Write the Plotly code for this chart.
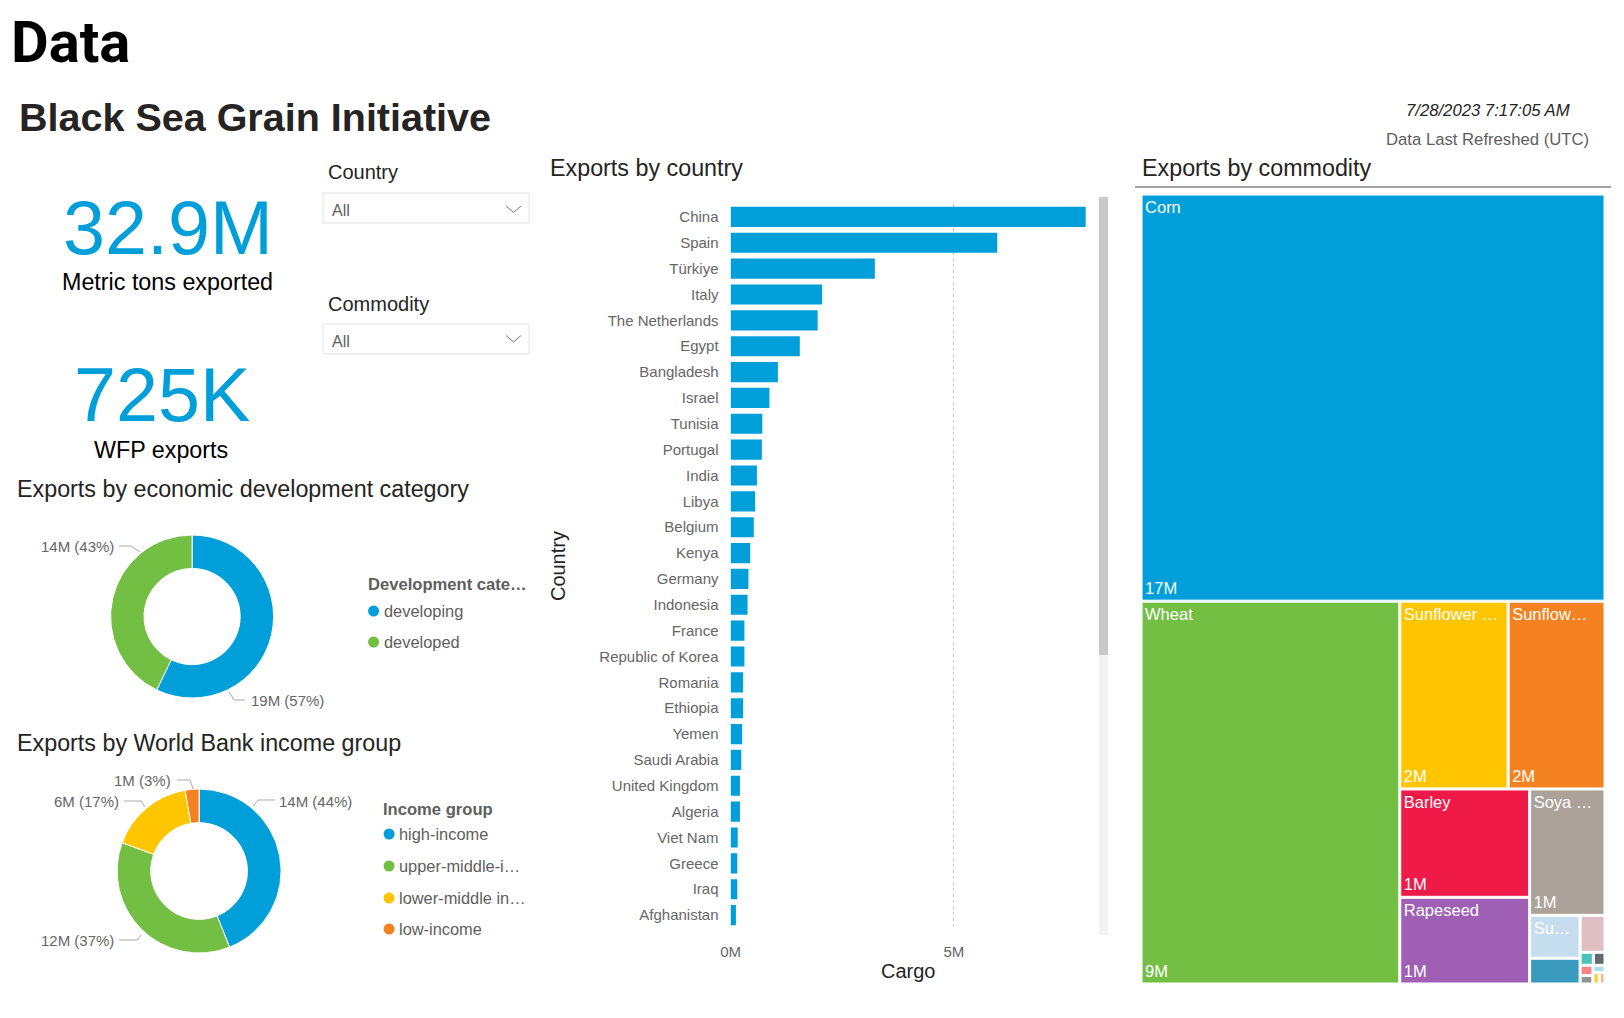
import plotly.graph_objects as go

# page geometry (body margin removed after drawing)
OX, OY = 0, 0
FW, FH = 1624, 1018
# measured horizontal placement correction of the rendered page
CX_A, CX_B = 9.9, 0.9939
FONT = "Liberation Sans, Arial, sans-serif"
DARK = "#252423"
GRAY = "#605E5C"
BLUE = "#009FDA"

# ---------------- data ----------------
countries = ["China", "Spain", "Türkiye", "Italy", "The Netherlands", "Egypt", "Bangladesh",
             "Israel", "Tunisia", "Portugal", "India", "Libya", "Belgium", "Kenya", "Germany",
             "Indonesia", "France", "Republic of Korea", "Romania", "Ethiopia", "Yemen",
             "Saudi Arabia", "United Kingdom", "Algeria", "Viet Nam", "Greece", "Iraq", "Afghanistan"]
cargo_m = [7.95, 5.97, 3.23, 2.05, 1.95, 1.55, 1.06, 0.87, 0.71, 0.70, 0.59, 0.55, 0.52, 0.44,
           0.40, 0.38, 0.31, 0.31, 0.28, 0.28, 0.26, 0.24, 0.21, 0.21, 0.16, 0.15, 0.15, 0.12]

dev_categories = ["developing", "developed"]
dev_mt = [18.8, 14.1]
dev_colors = [BLUE, "#72BF44"]

income_groups = ["high-income", "upper-middle-income", "lower-middle income", "low-income"]
income_legend = ["high-income", "upper-middle-i…", "lower-middle in…", "low-income"]
income_mt = [14.5, 12.1, 5.5, 0.9]
income_colors = [BLUE, "#72BF44", "#FFC600", "#F58220"]

commodities = ["Corn", "Wheat", "Sunflower meal", "Sunflower oil", "Barley", "Rapeseed",
               "Soya beans", "Sunflower seed", "Peas", "Mixed", "Wheat bran pellets",
               "Sugar beet pellets", "Vegetable oil", "Soya oil", "Rapeseed meal",
               "Soya bean meal", "Sunflower pellets"]
commodity_labels = ["Corn", "Wheat", "Sunflower …", "Sunflow…", "Barley", "Rapeseed", "Soya …",
                    "Su…", "", "", "", "", "", "", "", "", ""]
commodity_mt = [17.45, 9.15, 1.88, 1.68, 1.30, 1.04, 0.88, 0.20, 0.12, 0.085, 0.016, 0.014,
                0.012, 0.010, 0.008, 0.007, 0.006]
commodity_colors = [BLUE, "#72BF44", "#FFC600", "#F58220", "#EF1A48", "#9E5FB5", "#ADA29A",
                    "#C6DDF0", "#3A9ABE", "#DFBFC3", "#4BC2BB", "#5F6B6D", "#FF8080",
                    "#8C9598", "#A9DCF0", "#F7D34B", "#F9B48A"]

total_mt = "32.9M"
wfp_mt = "725K"


def fx(x):
    return ((x - CX_A) / CX_B - OX) / FW


def fy(y):
    return 1 - (y - OY) / FH


fig = go.Figure()

# ---------------- bar chart ----------------
fig.add_trace(go.Bar(
    x=cargo_m, y=countries, orientation="h", marker=dict(color=BLUE, line=dict(width=0)),
    hovertemplate="%{y}: %{x:.2f}M<extra></extra>", showlegend=False))

# ---------------- donuts ----------------
fig.add_trace(go.Pie(
    labels=dev_categories, values=dev_mt, hole=0.59, sort=False, direction="clockwise",
    rotation=0, textinfo="none", marker=dict(colors=dev_colors, line=dict(color="white", width=1)),
    domain=dict(x=[fx(110.5), fx(273.5)], y=[fy(698), fy(535)]), showlegend=False))

fig.add_trace(go.Pie(
    labels=income_groups, values=income_mt, hole=0.59, sort=False, direction="clockwise",
    rotation=0, textinfo="none", marker=dict(colors=income_colors, line=dict(color="white", width=1)),
    domain=dict(x=[fx(117), fx(281)], y=[fy(953), fy(789)]), showlegend=False))

# ---------------- treemap ----------------
parents = [""] * len(commodities)
value_text = [f"{v:.0f}M" if v >= 0.5 else "" for v in commodity_mt]
tm_domain = dict(x=[fx(1142), fx(1604)], y=[fy(983), fy(195)])
fig.add_trace(go.Treemap(
    labels=commodities, parents=parents, values=commodity_mt, text=commodity_labels,
    texttemplate="%{text}", textposition="top left", sort=True,
    marker=dict(colors=commodity_colors, line=dict(color="white", width=1), pad=dict(t=0, l=0, r=0, b=0)),
    tiling=dict(pad=2, squarifyratio=1), pathbar=dict(visible=False),
    textfont=dict(family=FONT, size=16.5, color="white"), domain=tm_domain,
    hovertemplate="%{label}: %{value}M<extra></extra>"))
fig.add_trace(go.Treemap(
    labels=commodities, parents=parents, values=commodity_mt, text=value_text,
    texttemplate="%{text}", textposition="bottom left", sort=True,
    marker=dict(colors=["rgba(0,0,0,0)"] * len(commodities), line=dict(width=0),
                pad=dict(t=0, l=0, r=0, b=0)),
    tiling=dict(pad=2, squarifyratio=1), pathbar=dict(visible=False),
    textfont=dict(family=FONT, size=16.5, color="white"), domain=tm_domain, hoverinfo="skip"))

# ---------------- annotations ----------------
anns = []


def ann(text, x, y, size, color=DARK, xanchor="left", yanchor="middle", family=FONT, angle=0):
    anns.append(dict(text=text, x=fx(x), y=fy(y), xref="paper", yref="paper", showarrow=False,
                     xanchor=xanchor, yanchor=yanchor, textangle=angle,
                     font=dict(family=family, size=size, color=color)))


anns.append(dict(text="<b>Data</b>", x=0, y=fy(41.5), xref="paper", yref="paper", showarrow=False,
                 xanchor="left", yanchor="middle", borderpad=0,
                 font=dict(family="Roboto, Liberation Sans, sans-serif", size=58, color="#000000")))
ann("<b>Black Sea Grain Initiative</b>", 17, 117, 39.5, DARK)
ann("<i>7/28/2023 7:17:05 AM</i>", 1572, 110, 16.7, DARK, xanchor="right")
ann("Data Last Refreshed (UTC)", 1591, 139, 16.7, GRAY, xanchor="right")

ann(total_mt, 167.5, 228, 75.5, BLUE, xanchor="center")
ann("Metric tons exported", 167.5, 282, 23.3, "#000000", xanchor="center")
ann(wfp_mt, 162, 395, 75.5, BLUE, xanchor="center")
ann("WFP exports", 161, 450, 23.3, "#000000", xanchor="center")

ann("Country", 326, 172, 20, DARK)
ann("All", 330, 210, 16, GRAY)
ann("Commodity", 326, 304, 20, DARK)
ann("All", 330, 341, 16, GRAY)

ann("Exports by economic development category", 15, 489, 23.3, DARK)
ann("Exports by World Bank income group", 15, 743, 23.3, DARK)
ann("Exports by country", 548, 168, 23.3, DARK)
ann("Exports by commodity", 1140, 168, 23.3, DARK)

ann("Country", 558, 566, 20, DARK, xanchor="center", angle=-90)
ann("Cargo", 908, 971, 20, DARK, xanchor="center")

# donut data labels
dev_total = sum(dev_mt)
dev_lbl = [f"{v:.0f}M ({100 * v / dev_total:.0f}%)" for v in dev_mt]
inc_total = sum(income_mt)
inc_lbl = [f"{v:.0f}M ({100 * v / inc_total:.0f}%)" for v in income_mt]
LBL = "#666666"
ann(dev_lbl[0], 249, 700, 15, LBL)
ann(dev_lbl[1], 116, 546, 15, LBL, xanchor="right")
ann(inc_lbl[0], 277, 801, 15, LBL)
ann(inc_lbl[1], 116, 940, 15, LBL, xanchor="right")
ann(inc_lbl[2], 121, 801, 15, LBL, xanchor="right")
ann(inc_lbl[3], 173, 780, 15, LBL, xanchor="right")

# legends
ann("<b>Development cate…</b>", 366, 584, 16.6, GRAY)
for name, yy in zip(dev_categories, [611, 642]):
    ann(name, 382, yy, 16.4, GRAY)
ann("<b>Income group</b>", 381, 809, 16.6, GRAY)
for name, yy in zip(income_legend, [834, 866, 898, 929]):
    ann(name, 397, yy, 16.4, GRAY)

# ---------------- shapes ----------------
shapes = []


def rect(x0, y0, x1, y1, fill, line="rgba(0,0,0,0)", lw=0):
    shapes.append(dict(type="rect", xref="paper", yref="paper", x0=fx(x0), x1=fx(x1),
                       y0=fy(y1), y1=fy(y0), fillcolor=fill, line=dict(color=line, width=lw), layer="below"))


def path(pts, color, width=1):
    d = "M " + " L ".join(f"{fx(a):.5f},{fy(b):.5f}" for a, b in pts)
    shapes.append(dict(type="path", xref="paper", yref="paper", path=d,
                       line=dict(color=color, width=width)))


def circle(cx, cy, r, color):
    shapes.append(dict(type="circle", xref="paper", yref="paper", x0=fx(cx - r), x1=fx(cx + r),
                       y0=fy(cy + r), y1=fy(cy - r), fillcolor=color, line=dict(width=0)))


# dropdowns
rect(323, 193, 529, 223, "white", "#E3E3E3", 1)
rect(323, 324, 529, 354, "white", "#E3E3E3", 1)
path([(506, 206), (513.5, 212.5), (521, 206)], "#777777", 1)
path([(506, 335.5), (513.5, 342), (521, 335.5)], "#777777", 1)

# commodity header rule
path([(1135, 187), (1611, 187)], "#A0A0A0", 2)

# scrollbar
rect(1099, 197, 1108, 655, "#C8C8C8")
rect(1099, 655, 1108, 935, "#F3F3F3")

# leader lines
LL = "#AAAAAA"
path([(119, 546), (131, 546), (140, 552)], LL)
path([(229, 692), (234, 700), (245, 700)], LL)
path([(253, 806), (258, 800), (275, 800)], LL)
path([(177, 780), (190, 780), (193, 789)], LL)
path([(124, 801), (141, 801), (145, 807)], LL)
path([(119, 940), (137, 940), (141, 935)], LL)

# legend bullets
for c, yy in zip(dev_colors, [611, 642]):
    circle(373.5, yy, 5.5, c)
for c, yy in zip(income_colors, [834, 866, 898, 929]):
    circle(389, yy, 5.5, c)

fig.update_layout(
    width=FW, height=FH, margin=dict(l=0, r=0, t=0, b=0),
    paper_bgcolor="white", plot_bgcolor="white", bargap=0.22,
    font=dict(family=FONT, color=GRAY),
    xaxis=dict(domain=[fx(730.5), fx(1087)], range=[0, 7.98], dtick=5, ticksuffix="M",
               showgrid=True, gridcolor="#C8C8C8", griddash="dot", gridwidth=1, zeroline=False,
               showline=False, ticks="", ticklabelstandoff=13,
               tickfont=dict(family=FONT, size=15, color="#666666"), fixedrange=True),
    yaxis=dict(domain=[fy(928), fy(204)], type="category", autorange="reversed",
               showgrid=False, zeroline=False, showline=False, ticks="", ticklabelstandoff=11,
               tickfont=dict(family=FONT, size=15, color="#666666"), fixedrange=True),
    annotations=anns, shapes=shapes, showlegend=False,
)

fig.write_html("out.html", config={"displayModeBar": False, "responsive": False},
               post_script="document.body.style.margin='0';document.body.style.overflow='hidden';")
